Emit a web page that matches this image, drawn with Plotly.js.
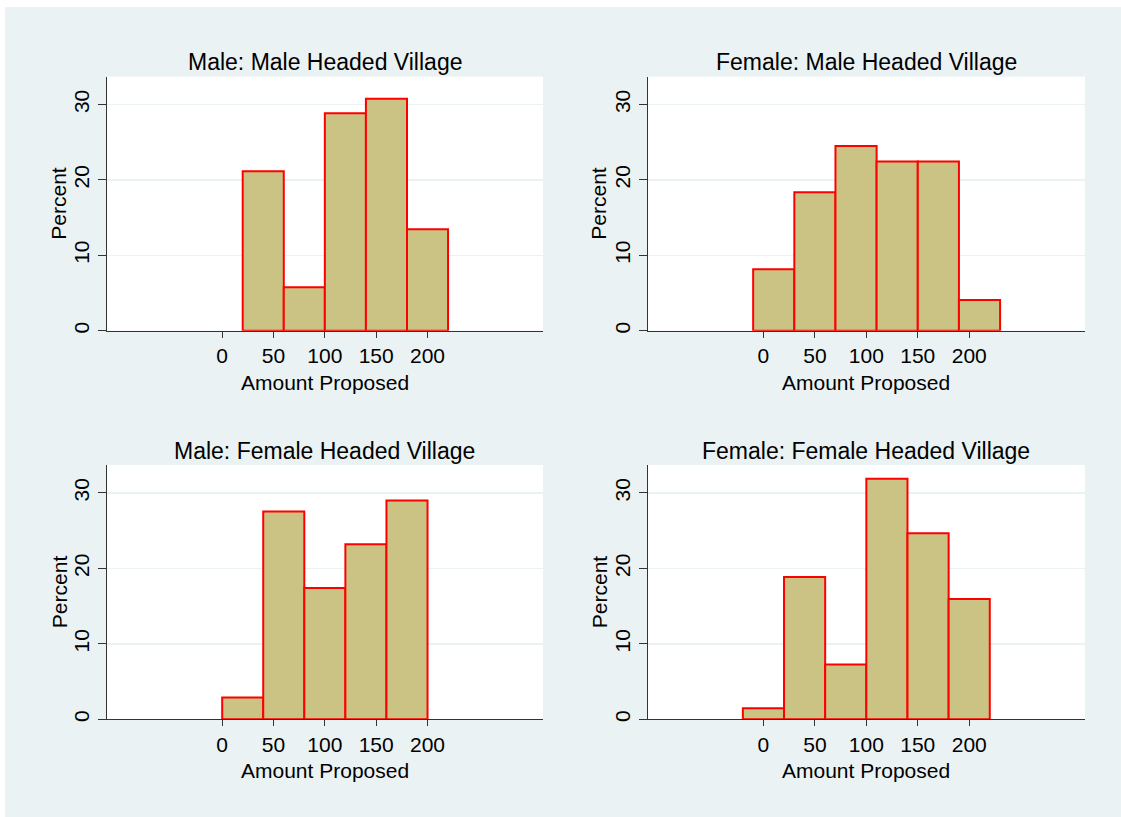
<!DOCTYPE html>
<html>
<head>
<meta charset="utf-8">
<script src="https://cdn.plot.ly/plotly-3.0.1.min.js"></script>
<style>
  html, body { margin: 0; padding: 0; background: #ffffff; width: 1121px; height: 817px; overflow: hidden; }
  #chart { position: absolute; left: 5px; top: 7px; width: 1116px; height: 810px; }
</style>
</head>
<body>
<div id="chart"></div>
<script>
// Panel titles
const panelTitles = [
  "Male: Male Headed Village",
  "Female: Male Headed Village",
  "Male: Female Headed Village",
  "Female: Female Headed Village"
];
// Bin centers (bin width 40) and percent values per panel
const binWidth = 40;
const mmCenters = [40, 80, 120, 160, 200];
const mmPercent = [21.15, 5.77, 28.85, 30.77, 13.46];
const fmCenters = [10, 50, 90, 130, 170, 210];
const fmPercent = [8.16, 18.37, 24.49, 22.45, 22.45, 4.08];
const mfCenters = [20, 60, 100, 140, 180];
const mfPercent = [2.90, 27.54, 17.39, 23.19, 28.99];
const ffCenters = [0, 40, 80, 120, 160, 200];
const ffPercent = [1.45, 18.84, 7.25, 31.88, 24.64, 15.94];
// Axis ticks
const xTicks = [0, 50, 100, 150, 200];
const yTicks = [0, 10, 20, 30];
const xLabel = "Amount Proposed";
const yLabel = "Percent";

const panels = [
  {c: mmCenters, v: mmPercent},
  {c: fmCenters, v: fmPercent},
  {c: mfCenters, v: mfPercent},
  {c: ffCenters, v: ffPercent}
];

const font = "Liberation Sans, Arial, Helvetica, sans-serif";
const bg = "#eaf2f3";

const traces = panels.map((p, i) => ({
  type: "bar",
  x: p.c,
  y: p.v,
  width: p.c.map(() => binWidth),
  marker: {color: "#cbc383", line: {color: "#ff0000", width: 2}},
  xaxis: i === 0 ? "x" : "x" + (i + 1),
  yaxis: i === 0 ? "y" : "y" + (i + 1),
  showlegend: false,
  hoverinfo: "x+y"
}));

const xDomains = [[0.0911, 0.4821], [0.5759, 0.9677]];
const yDomains = [[0.6004, 0.9140], [0.1206, 0.4346]];
const xTitleY = [0.5370, 0.0568];
const yTitleX = [0.0484, 0.5323];

const layout = {
  width: 1116, height: 810,
  margin: {l: 0, r: 0, t: 0, b: 0},
  paper_bgcolor: bg,
  plot_bgcolor: "#ffffff",
  font: {family: font, color: "#000000"},
  bargap: 0,
  annotations: []
};

for (let i = 0; i < 4; i++) {
  const col = i % 2, row = Math.floor(i / 2);
  const sx = i === 0 ? "" : String(i + 1);
  layout["xaxis" + sx] = {
    domain: xDomains[col],
    range: [-112.5, 312.5],
    anchor: "y" + sx,
    tickvals: xTicks,
    ticks: "outside", ticklen: 6, tickwidth: 1, tickcolor: "#333333",
    showline: true, linecolor: "#333333", linewidth: 1,
    showgrid: false, zeroline: false,
    tickfont: {size: 21, family: font},
    fixedrange: true
  };
  layout["yaxis" + sx] = {
    domain: yDomains[row],
    range: [0, 33.7],
    anchor: "x" + sx,
    tickvals: yTicks,
    tickangle: -90,
    ticks: "outside", ticklen: 8, tickwidth: 1, tickcolor: "#333333",
    showline: true, linecolor: "#333333", linewidth: 1,
    showgrid: true, gridcolor: bg, gridwidth: 1.5,
    zeroline: false,
    tickfont: {size: 21, family: font},
    fixedrange: true
  };
  const xc = (xDomains[col][0] + xDomains[col][1]) / 2;
  const yc = (yDomains[row][0] + yDomains[row][1]) / 2;
  layout.annotations.push({
    text: panelTitles[i],
    xref: "paper", yref: "paper",
    x: xc, y: yDomains[row][1] - 0.001,
    xanchor: "center", yanchor: "bottom",
    showarrow: false,
    font: {size: 23, family: font, color: "#000000"}
  });
  layout.annotations.push({
    text: xLabel,
    xref: "paper", yref: "paper",
    x: xc, y: xTitleY[row],
    xanchor: "center", yanchor: "middle",
    showarrow: false,
    font: {size: 21, family: font, color: "#000000"}
  });
  layout.annotations.push({
    text: yLabel,
    xref: "paper", yref: "paper",
    x: yTitleX[col], y: yc,
    xanchor: "center", yanchor: "middle",
    textangle: -90,
    showarrow: false,
    font: {size: 21, family: font, color: "#000000"}
  });
}

Plotly.newPlot("chart", traces, layout, {displayModeBar: false, staticPlot: true});
</script>
</body>
</html>
